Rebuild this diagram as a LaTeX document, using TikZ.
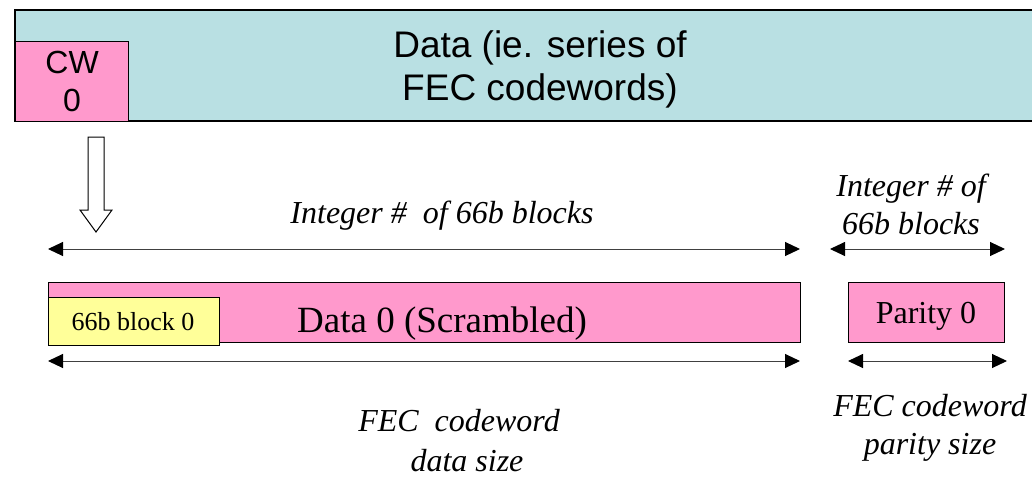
\documentclass[tikz,border=0pt]{standalone}
\usepackage{fontspec}
\setmainfont{Liberation Serif}
\setsansfont{Liberation Sans}
\usetikzlibrary{arrows.meta}
\definecolor{cyanbg}{HTML}{B9E0E3}
\definecolor{pinkbox}{HTML}{FF99CC}
\definecolor{yellowbox}{HTML}{FFFF99}
\tikzset{
  box/.style={draw=black, line width=1.2pt, inner sep=0pt},
  dim/.style={draw=black!75, line width=1pt, {Triangle[length=15pt,width=14pt,color=black]}-{Triangle[length=15pt,width=14pt,color=black]}},
  lbl/.style={font=\fontsize{32}{38}\selectfont\itshape, align=center, inner sep=0pt},
}
\begin{document}
\begin{tikzpicture}[x=1pt,y=-1pt]
\useasboundingbox (0,0) rectangle (1032,477);
% top band
\fill[cyanbg] (15,10) rectangle (1040,121);
\draw[line width=1.2pt] (1040,10) -- (15,10) -- (15,121) -- (1040,121);
\node[font=\sffamily\fontsize{37}{43}\selectfont, align=center] (data) at (540,69) {Data (ie. series of\\FEC codewords)};
\node[box, fill=pinkbox, minimum width=113pt, minimum height=80pt, anchor=north west] (cw) at (15,41) {};
\node[font=\sffamily\fontsize{32}{38}\selectfont, align=center] (cwt) at (cw.center) {CW\\0};
% hollow arrow
\draw[line width=1pt, fill=white] (88,137) -- (104,137) -- (104,210) -- (112,210) -- (96,232) -- (80,210) -- (88,210) -- cycle;
% dimension top
\coordinate (t1) at (48,249);
\coordinate (t2) at (800,249);
\draw[dim] (t1) -- (t2);
\node[lbl] (ilbl) at (442,216) {Integer \#\ \ of 66b blocks};
\coordinate (t3) at (830,249);
\coordinate (t4) at (1005,249);
\draw[dim] (t3) -- (t4);
\node[lbl] (ilbl2) at (911,204) {Integer \# of\\66b blocks};
% data 0
\node[box, fill=pinkbox, minimum width=752pt, minimum height=60pt, anchor=north west] (d0) at (48,282) {};
\node[font=\fontsize{37}{42}\selectfont] (d0t) at (442,324) {Data 0 (Scrambled)};
\node[box, fill=yellowbox, minimum width=171pt, minimum height=48pt, anchor=north west] (b0) at (48,297) {};
\node[font=\fontsize{26}{30}\selectfont] (b0t) at (133,322) {66b block 0};
\node[box, fill=pinkbox, minimum width=156pt, minimum height=60pt, anchor=north west] (p0) at (848,282) {};
\node[font=\fontsize{32}{36}\selectfont] (p0t) at (926,316) {Parity 0};
% dimension bottom
\coordinate (b1) at (48,361);
\coordinate (b2) at (800,361);
\draw[dim] (b1) -- (b2);
\coordinate (b3) at (848,361);
\coordinate (b4) at (1007,361);
\draw[dim] (b3) -- (b4);
\node[lbl, font=\fontsize{32}{40}\selectfont\itshape] (flbl) at (459,441) {FEC\ \ codeword\\\ \ data size};
\node[lbl] (flbl2) at (930,428) {FEC codeword\\parity size};
\end{tikzpicture}
\end{document}
